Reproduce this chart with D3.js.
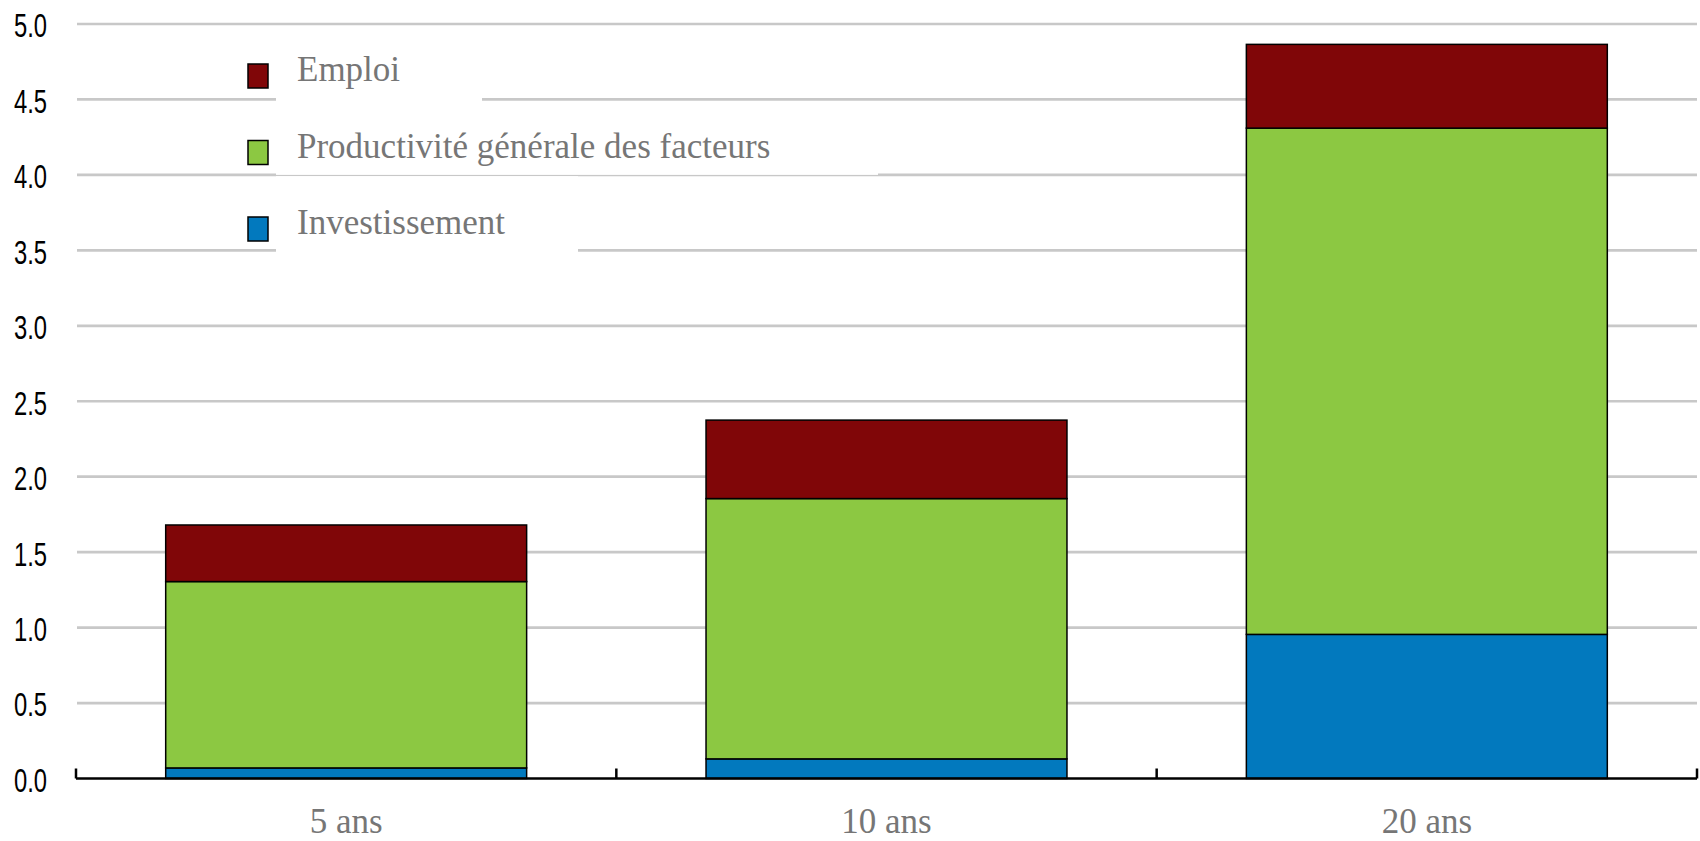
<!DOCTYPE html>
<html>
<head>
<meta charset="utf-8">
<script src="https://cdn.jsdelivr.net/npm/d3@7"></script>
<style>
  body { margin: 0; background: #fff; }
  .ylab { font-family: "Liberation Sans", Arial, sans-serif; }
  .serif { font-family: "Liberation Serif", "DejaVu Serif", serif; }
</style>
</head>
<body>
<div id="chart"></div>
<script>
// data
const categories = ["5 ans", "10 ans", "20 ans"];
const investissement = [0.07, 0.13, 0.955];
const productivite = [1.235, 1.725, 3.355];
const emploi = [0.375, 0.52, 0.555];

const seriesKeys = ["Investissement", "Productivité générale des facteurs", "Emploi"];
const seriesColors = ["#0279be", "#8cc842", "#800608"];
const yTicks = [0, 0.5, 1, 1.5, 2, 2.5, 3, 3.5, 4, 4.5, 5];

const W = 1700, H = 841;
const mLeft = 76, mRight = 1697, mTop = 24, mBottom = 778.5;
const narrow = 0.7; // squeeze for the condensed tick font

const svg = d3.select("#chart").append("svg")
  .attr("width", W).attr("height", H);

let rows = categories.map((c, i) => ({
  cat: c,
  "Investissement": investissement[i],
  "Productivité générale des facteurs": productivite[i],
  "Emploi": emploi[i]
}));
let stacked = d3.stack().keys(seriesKeys)(rows);

let x = d3.scaleBand().domain(categories).range([mLeft, mRight])
  .paddingInner(0.332).paddingOuter(0.166);
let y = d3.scaleLinear().domain([0, 5]).range([mBottom, mTop]);
let color = d3.scaleOrdinal().domain(seriesKeys).range(seriesColors);

// gridlines
svg.append("g")
  .selectAll("line")
  .data(yTicks.filter(d => d > 0))
  .join("line")
  .attr("x1", mLeft + 1).attr("x2", mRight)
  .attr("y1", d => y(d)).attr("y2", d => y(d))
  .attr("stroke", "#c8c8c8").attr("stroke-width", 2.7);

// y labels
let yAxis = svg.append("g")
  .attr("transform", `translate(${mLeft},0)`)
  .call(d3.axisLeft(y).tickValues(yTicks).tickFormat(d3.format(".1f")).tickSize(0));
yAxis.select(".domain").remove();
yAxis.selectAll("text")
  .attr("class", "ylab")
  .attr("font-size", 34)
  .attr("fill", "#000")
  .attr("x", -29 / narrow)
  .attr("dy", "0.38em")
  .attr("transform", `scale(${narrow},1)`);

// legend (white boxes cover the gridlines)
let legendItems = seriesKeys.slice().reverse();
let boxes = [
  { x: 276, y: 40, w: 206, h: 72 },
  { x: 276, y: 113, w: 602, h: y(4) - 113 },
  { x: 276, y: y(4) + 1.3, w: 302, h: 80 }
];
svg.append("g").selectAll("rect")
  .data(boxes)
  .join("rect")
  .attr("x", d => d.x).attr("y", d => d.y)
  .attr("width", d => d.w).attr("height", d => d.h)
  .attr("fill", "#fff");

let legend = svg.append("g").selectAll("g")
  .data(legendItems)
  .join("g")
  .attr("transform", (d, i) => `translate(248,${76 + i * 76.5})`);
legend.append("rect")
  .attr("x", 0).attr("y", -12)
  .attr("width", 20).attr("height", 24)
  .attr("fill", d => color(d))
  .attr("stroke", "#000").attr("stroke-width", 1.5);
legend.append("text")
  .attr("class", "serif")
  .attr("x", 49).attr("y", 5)
  .attr("font-size", 35)
  .attr("fill", "#767676")
  .text(d => d);

// bars
svg.append("g")
  .selectAll("g")
  .data(stacked)
  .join("g")
  .attr("fill", d => color(d.key))
  .selectAll("rect")
  .data(d => d)
  .join("rect")
  .attr("x", d => x(d.data.cat))
  .attr("y", d => y(d[1]))
  .attr("width", x.bandwidth())
  .attr("height", d => y(d[0]) - y(d[1]))
  .attr("stroke", "#000").attr("stroke-width", 1.5);

// x axis line and boundary ticks
svg.append("line")
  .attr("x1", mLeft).attr("x2", mRight)
  .attr("y1", mBottom).attr("y2", mBottom)
  .attr("stroke", "#000").attr("stroke-width", 2.5);
let bounds = d3.range(categories.length + 1).map(i => mLeft + i * x.step());
svg.append("g").selectAll("line")
  .data(bounds)
  .join("line")
  .attr("x1", d => d).attr("x2", d => d)
  .attr("y1", mBottom).attr("y2", mBottom - 10)
  .attr("stroke", "#000").attr("stroke-width", 2.5);

// x labels
let xAxis = svg.append("g")
  .attr("transform", `translate(0,${mBottom})`)
  .call(d3.axisBottom(x).tickSize(0).tickPadding(30));
xAxis.select(".domain").remove();
xAxis.selectAll("text")
  .attr("class", "serif")
  .attr("font-size", 35)
  .attr("fill", "#767676");
</script>
</body>
</html>
